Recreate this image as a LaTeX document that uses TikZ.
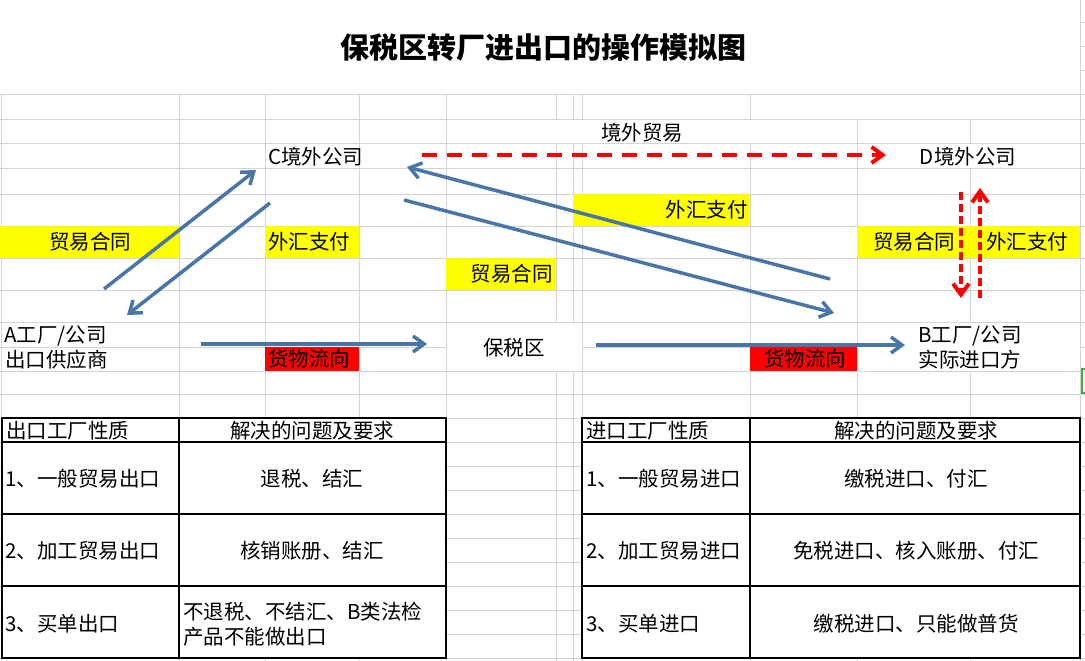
\documentclass[tikz,border=0pt]{standalone}
\usepackage{fontspec}
\setmainfont{Noto Sans CJK SC}
\usetikzlibrary{arrows.meta}
\definecolor{gridgray}{RGB}{212,212,212}
\definecolor{flowblue}{RGB}{72,118,168}
\definecolor{xlyellow}{RGB}{255,255,0}
\definecolor{xlred}{RGB}{255,0,0}
\definecolor{selgreen}{RGB}{60,170,70}
\tikzset{
  txt/.style={inner sep=0pt,font=\fontsize{20.5}{25}\selectfont},
  gridline/.style={draw=gridgray,line width=1pt},
  bluearrow/.style={draw=flowblue,line width=3.5pt,-{Straight Barb[length=11pt,width=16pt]}},
  reddash/.style={draw=xlred,line width=4pt,-{Straight Barb[length=11pt,width=16pt]}},
  cellbox/.style={draw=black,line width=1.2pt,fill=white}
}

\begin{document}
\begin{tikzpicture}[x=1pt,y=-1pt]
\useasboundingbox (0,0) rectangle (1085,661);
\fill[white] (0,0) rectangle (1085,661);
\foreach \gx in {1.5,179,265,359,446,556,573,582,750,857,970,1080}
    \draw[gridline] (\gx,95) -- (\gx,661);
\foreach \gy in {95,119,143,168,194,226,258,290,322,347,371,394,418,442,466,490,514,538,562,586,610,634,658}
    \draw[gridline] (0,\gy) -- (1085,\gy);
\draw[gridline] (1080,0) -- (1080,95);
\foreach \gy in {23,47,71}
    \draw[gridline] (1080,\gy) -- (1085,\gy);
\fill[white] (0,0) rectangle (1079.5,94.5);
\fill[white] (446.5,119.5) rectangle (856.5,142.5);
\fill[white] (750.5,95.5) rectangle (1079.5,118.5);
\fill[white] (857.5,143.5) rectangle (1079.5,167.5);
\fill[white] (446.5,322.5) rectangle (581.5,370.5);
\fill[white] (857.5,322.5) rectangle (1079.5,370.5);
\fill[xlyellow] (0,226) rectangle (179,258);
\fill[xlyellow] (265,226) rectangle (359,258);
\fill[xlyellow] (446,258) rectangle (556,290);
\fill[xlyellow] (573,194) rectangle (750,226);
\fill[xlyellow] (857,226) rectangle (1080,258);
\fill[xlred] (265,347) rectangle (359,371);
\fill[xlred] (750,347) rectangle (857,371);
\draw[selgreen,line width=1.5pt] (1085,369) -- (1082,369) -- (1082,393) -- (1085,393);
\foreach \ya/\yb in {418/442,442/514,514/586,586/658} {
    \draw[cellbox] (2,\ya) rectangle (179,\yb);
    \draw[cellbox] (179,\ya) rectangle (446,\yb);
    \draw[cellbox] (582,\ya) rectangle (750,\yb);
    \draw[cellbox] (750,\ya) rectangle (1080,\yb);
}
\draw (543,48) node[txt,font=\fontsize{29}{34}\selectfont\bfseries] (title) {保税区转厂进出口的操作模拟图};
\draw (642,133) node[txt] (jwmy) {境外贸易};
\draw (268,157) node[txt,anchor=west] (cco) {C境外公司};
\draw (968,157) node[txt] (dco) {D境外公司};
\draw (90,242) node[txt] (htA) {贸易合同};
\draw (268,242) node[txt,anchor=west] (whC) {外汇支付};
\draw (553,274) node[txt,anchor=east] (htB) {贸易合同};
\draw (748,210) node[txt,anchor=east] (whD) {外汇支付};
\draw (873,242) node[txt,anchor=west] (htD) {贸易合同};
\draw (986,242) node[txt,anchor=west] (whB) {外汇支付};
\draw (4,336) node[txt,anchor=west] (afac) {A工厂/公司};
\draw (5,360) node[txt,anchor=west] (asup) {出口供应商};
\draw (514,348) node[txt] (bsz) {保税区};
\draw (970,336) node[txt] (bfac) {B工厂/公司};
\draw (970,360) node[txt] (bimp) {实际进口方};
\draw (268,359) node[txt,anchor=west] (hwA) {货物流向};
\draw (805,359) node[txt] (hwB) {货物流向};
\coordinate (acOut) at (104,289);
\coordinate (acIn) at (256,170);
\coordinate (caOut) at (270,203);
\coordinate (caIn) at (127,315);
\coordinate (abOut) at (201,344);
\coordinate (abIn) at (427,344);
\coordinate (dcOut) at (830,279);
\coordinate (dcIn) at (407,167);
\coordinate (cdOut) at (404,200);
\coordinate (cdIn) at (834,313);
\coordinate (bbOut) at (596,345);
\coordinate (bbIn) at (905,345);
\coordinate (ctdOut) at (422,155);
\coordinate (ctdIn) at (886,155);
\coordinate (dbOut) at (961,192);
\coordinate (dbIn) at (961,298);
\coordinate (bdOut) at (980,298);
\coordinate (bdIn) at (980,188);
\draw[bluearrow] (acOut) -- (acIn);
\draw[bluearrow] (caOut) -- (caIn);
\draw[bluearrow] (abOut) -- (abIn);
\draw[bluearrow] (dcOut) -- (dcIn);
\draw[bluearrow] (cdOut) -- (cdIn);
\draw[bluearrow] (bbOut) -- (bbIn);
\draw[reddash,dash pattern=on 15pt off 10pt] (ctdOut) -- (ctdIn);
\draw[reddash,dash pattern=on 8pt off 4pt] (dbOut) -- (dbIn);
\draw[reddash,dash pattern=on 8pt off 4pt] (bdOut) -- (bdIn);
\draw (6,431) node[txt,anchor=west] (lhead) {出口工厂性质};
\draw (312,431) node[txt] (lneed) {解决的问题及要求};
\draw (5,479) node[txt,anchor=west] (lgen) {1、一般贸易出口};
\draw (312,479) node[txt] (lgenNeed) {退税、结汇};
\draw (5,551) node[txt,anchor=west] (lproc) {2、加工贸易出口};
\draw (312,551) node[txt] (lprocNeed) {核销账册、结汇};
\draw (5,624) node[txt,anchor=west] (lbuy) {3、买单出口};
\draw (183,624.5) node[txt,anchor=west,align=left] (lbuyNeed) {不退税、不结汇、B类法检\\产品不能做出口};
\draw (586,431) node[txt,anchor=west] (rhead) {进口工厂性质};
\draw (916,431) node[txt] (rneed) {解决的问题及要求};
\draw (586,479) node[txt,anchor=west] (rgen) {1、一般贸易进口};
\draw (916,479) node[txt] (rgenNeed) {缴税进口、付汇};
\draw (586,551) node[txt,anchor=west] (rproc) {2、加工贸易进口};
\draw (916,551) node[txt] (rprocNeed) {免税进口、核入账册、付汇};
\draw (586,624) node[txt,anchor=west] (rbuy) {3、买单进口};
\draw (916,624) node[txt] (rbuyNeed) {缴税进口、只能做普货};
\end{tikzpicture}
\end{document}
